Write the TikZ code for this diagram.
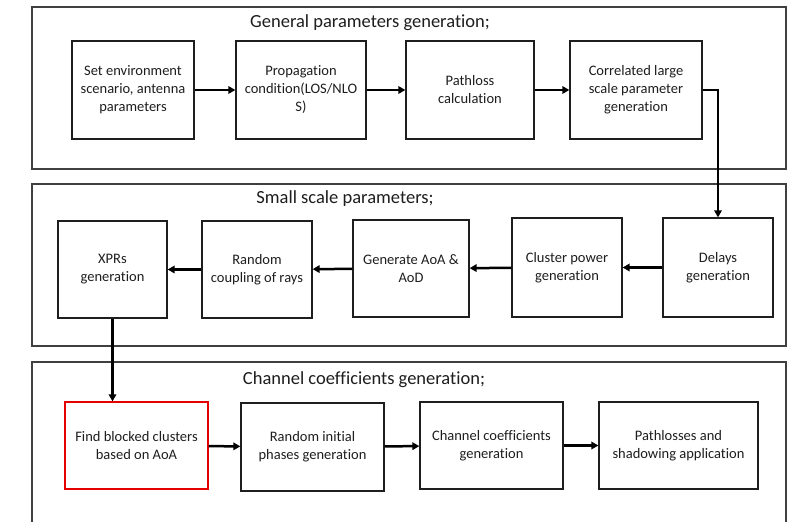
\documentclass[tikz,border=0pt]{standalone}
\usepackage{fontspec}
\setmainfont{Carlito}[Ligatures=NoCommon]
\usetikzlibrary{arrows.meta}
\definecolor{ink}{HTML}{1E1E1E}
\tikzset{
  box/.style={draw=ink, line width=1.3pt, rectangle, align=center, text=ink,
    font=\fontsize{14.5}{18}\selectfont, inner sep=2pt},
  redbox/.style={box, draw=red!90!black},
  frame/.style={draw=ink!85, line width=1.3pt},
  title/.style={text=ink, font=\fontsize{18.5}{22}\selectfont, inner sep=0pt},
  arr/.style={draw=black, line width=2.5pt, -{Triangle[length=7pt,width=7.5pt]}},
}
\begin{document}
\begin{tikzpicture}[x=1pt,y=-1pt]
\clip (0,0) rectangle (790,522);
\fill[white] (0,0) rectangle (790,522);
% frames
\draw[frame] (32,7) rectangle (786,169);
\draw[frame] (32,184) rectangle (786,346);
\draw[frame] (32,362) rectangle (786,540);
\node[title] (t1) at (370,23) {General parameters generation;};
\node[title] (t2) at (345,199) {Small scale parameters;};
\node[title] (t3) at (364,380) {Channel coefficients generation;};
% row 1
\node[box, minimum width=122pt, minimum height=98pt] (a) at (133,90) {Set environment\\scenario, antenna\\parameters};
\node[box, minimum width=130pt, minimum height=98pt] (b) at (301,90) {Propagation\\condition(LOS/NLO\\S)};
\node[box, minimum width=128pt, minimum height=98pt] (c) at (470,90) {Pathloss\\calculation};
\node[box, minimum width=132pt, minimum height=98pt] (d) at (636,90) {Correlated large\\scale parameter\\generation};
% row 2
\node[box, minimum width=109pt, minimum height=97pt] (xpr) at (112.5,269.5) {XPRs\\generation};
\node[box, minimum width=110pt, minimum height=97pt] (rc) at (257,269.5) {Random\\coupling of rays};
\node[box, minimum width=116pt, minimum height=97pt] (aoa) at (411,268.5) {Generate AoA \&\\AoD};
\node[box, minimum width=110pt, minimum height=99pt] (cp) at (567,267.5) {Cluster power\\generation};
\node[box, minimum width=110pt, minimum height=99pt] (dl) at (718,267.5) {Delays\\generation};
% row 3
\node[redbox, minimum width=143pt, minimum height=87pt] (fb) at (136.5,445.5) {Find blocked clusters\\based on AoA};
\node[box, minimum width=143pt, minimum height=88pt] (ri) at (312.5,447) {Random initial\\phases generation};
\node[box, minimum width=143pt, minimum height=87pt] (cc) at (491.5,445.5) {Channel coefficients\\generation};
\node[box, minimum width=159pt, minimum height=87pt] (pl) at (678.5,445.5) {Pathlosses and\\shadowing application};
% connectors
\draw[arr] (a) -- (b);
\draw[arr] (b) -- (c);
\draw[arr] (c) -- (d);
\draw[arr] (d.east) -| (dl.north);
\draw[arr] (dl) -- (cp);
\draw[arr] (cp) -- (aoa);
\draw[arr] (aoa) -- (rc);
\draw[arr] (rc) -- (xpr);
\draw[arr] (xpr.south) -- (xpr.south |- fb.north);
\draw[arr] (fb) -- (ri);
\draw[arr] (ri) -- (cc);
\draw[arr] (cc) -- (pl);
\end{tikzpicture}
\end{document}
